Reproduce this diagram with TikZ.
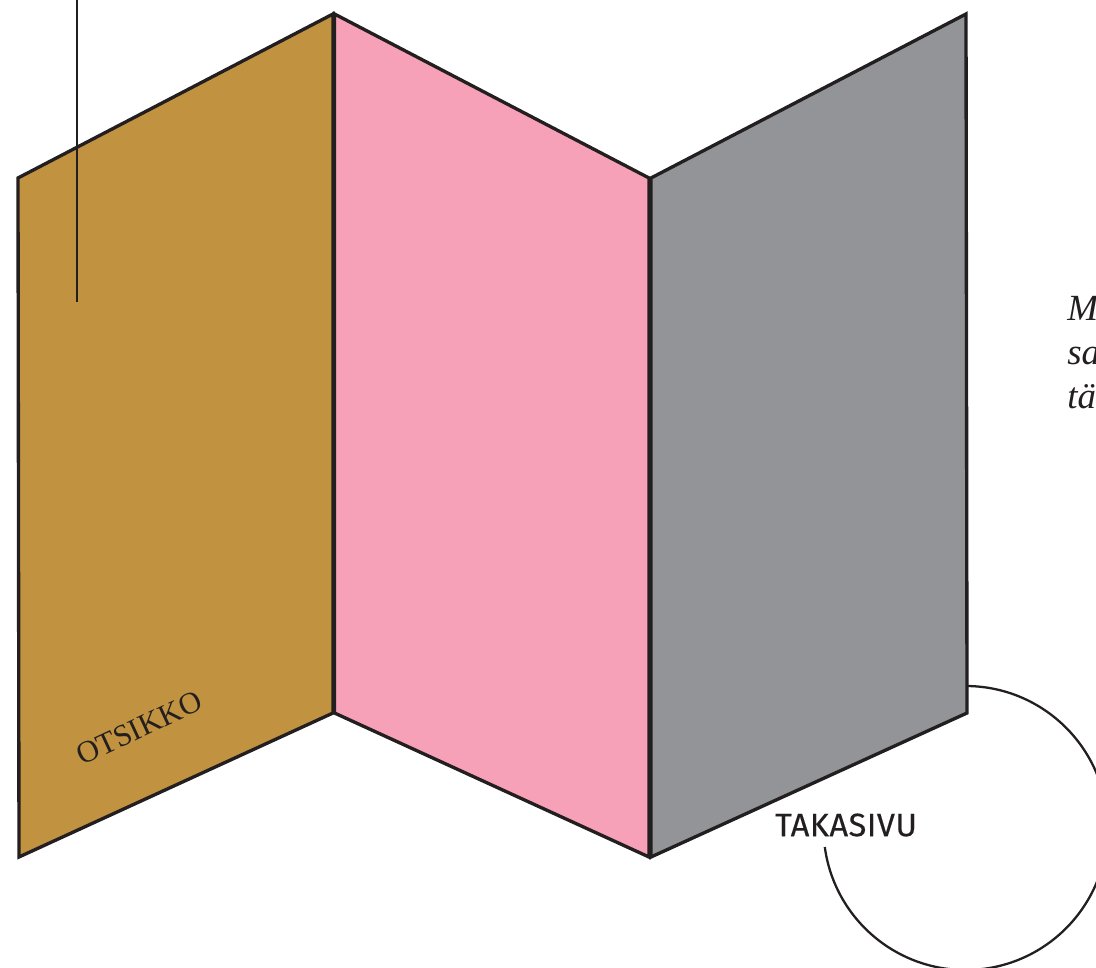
\documentclass[tikz,border=0pt]{standalone}
\usepackage{fontspec}
\setmainfont{Liberation Serif}
\newfontfamily\labelfont[FakeBold=0.3, LetterSpace=1.5]{Fira Sans}
\definecolor{inkBlack}{RGB}{35, 31, 32}
\definecolor{foldBrown}{RGB}{193, 147, 65}
\definecolor{foldPink}{RGB}{246, 161, 184}
\definecolor{foldGrey}{RGB}{146, 148, 151}
\begin{document}
\begin{tikzpicture}[scale=1.0, panelEdge/.style={draw=inkBlack, line width=1.9pt, line join=miter}]
        \useasboundingbox (0,0) rectangle (21.92,19.34);
        \draw[inkBlack, line width=1.3pt] (19.31,5.62) arc[start angle=90, end angle=-172.3, radius=2.84];
        \draw[panelEdge, fill=foldBrown] (0.36,15.78) -- (6.66,19.06) -- (6.66,5.08) -- (0.38,2.20) -- cycle;
        \draw[panelEdge, fill=foldPink] (6.69,19.06) -- (12.98,15.78) -- (12.98,2.20) -- (6.69,5.08) -- cycle;
        \draw[panelEdge, fill=foldGrey] (13.02,15.78) -- (19.32,19.06) -- (19.34,5.08) -- (13.02,2.20) -- cycle;
        \draw[inkBlack, line width=1.5pt] (1.54,19.34) -- (1.54,13.30);
        \node[inkBlack, rotate=25, font=\fontsize{17.5}{20}\selectfont] (otsikko) at (2.78,4.78) {OTSIKKO};
        \node[inkBlack, font=\labelfont\fontsize{18.5}{20}\selectfont] (takasivu) at (16.92,2.84) {TAKASIVU};
        \node[inkBlack, anchor=north west, inner sep=0pt, align=left, font=\itshape\fontsize{21}{25.2}\selectfont] (sivuteksti) at (21.34,13.43) {M\\sa\\tä};
      \end{tikzpicture}
\end{document}
